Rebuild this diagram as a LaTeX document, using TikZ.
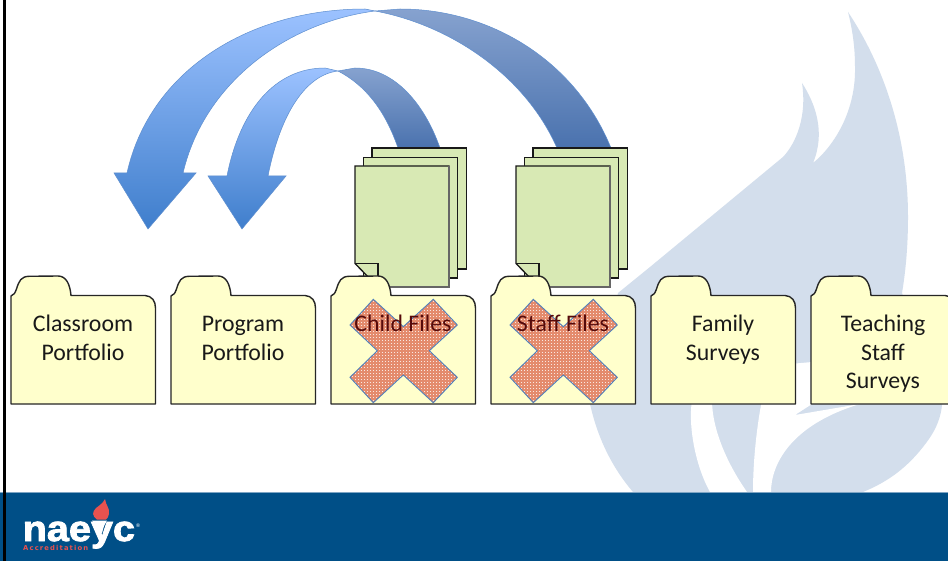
\documentclass[tikz,border=0pt]{standalone}
\usepackage{fontspec}
\setmainfont{Carlito}
\newfontfamily\logofont[FakeBold=2.2]{Liberation Sans Bold}
\newfontfamily\logosmall{DejaVu Sans}
\begin{document}
\begin{tikzpicture}[x=1pt,y=-1pt,
  foldershape/.style={fill=folderfill,draw=black!85,line width=1.4pt,line join=round},
  foldertext/.style={font=\fontsize{23.8}{28.8}\selectfont,align=center,text=black!90,inner sep=0pt},
  pageshape/.style={fill=pagefill,draw=black!90,line width=1.3pt,line join=miter},
  lightarrow/.style={top color=arrowlighttop,bottom color=arrowlightbot,draw=arrowedge,line width=.5pt},
  darkarrow/.style={top color=arrowdarktop,bottom color=arrowdarkbot,draw=arrowedge,line width=.5pt},
  crossshape/.style={fill=crossfill,fill opacity=.9},
]
\definecolor{folderfill}{HTML}{FFFFCC}
\definecolor{pagefill}{HTML}{D8E9B4}
\definecolor{arrowlighttop}{HTML}{9CC2FF}
\definecolor{arrowlightbot}{HTML}{3F7ECC}
\definecolor{arrowdarktop}{HTML}{86A2CF}
\definecolor{arrowdarkbot}{HTML}{4A72AE}
\definecolor{arrowedge}{HTML}{5F8FCF}
\definecolor{crossfill}{HTML}{E27F63}
\definecolor{crossedge}{HTML}{4F81BD}
\definecolor{crosstext}{HTML}{560A0A}
\definecolor{flamecol}{HTML}{D3DEEC}
\definecolor{barcol}{HTML}{004F87}
\definecolor{logored}{HTML}{E8524F}
\useasboundingbox (0,0) rectangle (948,561);
\fill[white] (0,0) rectangle (948,561);
% background flame
\fill[flamecol] (633,492) .. controls (610,465) and (597,435) .. (590,404)
  -- (618,293) -- (650,267) -- (783,157)
  .. controls (797,142) and (807,115) .. (802,83)
  .. controls (815,103) and (826,132) .. (813,163)
  .. controls (835,145) and (856,110) .. (855,67)
  .. controls (855,45) and (852,28) .. (848,12)
  .. controls (880,60) and (908,130) .. (908,217)
  .. controls (908,250) and (905,275) .. (902,293)
  -- (942,405) .. controls (940,425) and (930,438) .. (923,447)
  .. controls (905,470) and (885,483) .. (863,492) -- cycle;
\fill[white] (692,400) .. controls (688,425) and (695,465) .. (710,492) -- (747,492)
  .. controls (728,465) and (712,430) .. (712,400) -- cycle;
\fill[white] (762,400) .. controls (757,425) and (753,460) .. (753,492) -- (771,492)
  .. controls (771,465) and (790,425) .. (860,404) -- (795,415) -- (812,404)
  -- (812,362) -- (790,364) -- (762,385) -- cycle;
% bottom bar
\fill[barcol] (0,492) rectangle (948,561);
\draw[flamecol!60!barcol,line width=.8pt] (0,492) -- (948,492);
\fill[black] (3,0) rectangle (6,561);
% logo
\fill[logored] (105,499) .. controls (106,506) and (110,508) .. (109,514)
  .. controls (108.5,517) and (107.5,518) .. (106,519.5) -- (97,519.5)
  .. controls (92,516) and (92,512) .. (96,508) .. controls (100,505) and (103,503) .. (105,499) -- cycle;
\node[text=logored,font=\logosmall\bfseries\fontsize{6.8}{7}\selectfont,anchor=west,inner sep=0pt] (accredit) at (23,548) {A\,c\,c\,r\,e\,d\,i\,t\,a\,t\,i\,o\,n};
\fill[white] (92,520.5) -- (107,520.5) -- (104,526) -- (102,533) -- (98,533) -- (96,526) -- cycle;
\node[text=white,font=\logofont\fontsize{36}{36}\selectfont,anchor=base west,inner sep=0pt,xscale=1.1] (logo) at (22.5,541) {naeyc};
\node[text=white,font=\logosmall\fontsize{5}{5}\selectfont,inner sep=0pt] (regmark) at (138,526) {®};
% large arrow
\shade[darkarrow] (375,11) -- (400,9) .. controls (490,9) and (575,60) .. (611,148)
  -- (557,148) .. controls (525,75) and (450,25) .. (375,11) -- cycle;
\shade[lightarrow] (114,173) -- (127,173) .. controls (150,70) and (250,9) .. (365,9) -- (375,11)
  .. controls (290,22) and (205,80) .. (183,173) -- (196,173) -- (148,229) -- cycle;
% small arrow
\shade[darkarrow] (338,71) -- (355,68) .. controls (395,68) and (425,105) .. (440,148)
  -- (398,148) .. controls (385,110) and (365,85) .. (338,71) -- cycle;
\shade[lightarrow] (208,176) -- (227,176) .. controls (240,110) and (275,68) .. (325,68) -- (338,71)
  .. controls (305,75) and (280,115) .. (268,176) -- (286,176) -- (242,229) -- cycle;
% page stacks
\foreach \dx in {0,161}{
\begin{scope}[xshift=\dx]
  \draw[pageshape] (372,148) rectangle (466.5,269);
  \draw[pageshape] (363.5,157.5) rectangle (457.5,278);
  \draw[pageshape] (355,166) -- (449,166) -- (449,287) -- (378,287) -- (355,263.5) -- cycle;
  \draw[black!60,line width=1.3pt] (449,166) -- (449,287) -- (378,287);
  \draw[black!90,line width=1.1pt] (355,263.5) -- (378,263.5) -- (378,287);
\end{scope}}
% folders
\newcommand{\myfolderbody}[1]{%
  \draw[foldershape,xshift=#1] (11,404) -- (11,296)
    .. controls (14,295) and (15,293) .. (16.5,289)
    .. controls (19,281) and (21,276.5) .. (29,276.3)
    -- (58,276) .. controls (66,276) and (70,284) .. (71,295.5)
    -- (145,295.5) .. controls (152,296) and (155.5,301) .. (155.5,308)
    -- (155.5,404) -- cycle;}
\newcommand{\myfoldertext}[4]{%
  \node[foldertext,anchor=north,xshift=#1,text=#4] (#2) at (83,313) {\rule{0pt}{18pt}#3};}
\foreach \fx in {0,160,320,480,640,800}{\myfolderbody{\fx}}
\myfoldertext{0}{classroom}{Classroom\\Portfolio}{black!90}
\myfoldertext{160}{program}{Program\\Portfolio}{black!90}
\myfoldertext{640}{family}{Family\\Surveys}{black!90}
\myfoldertext{800}{teaching}{Teaching\\Staff\\Surveys}{black!90}
% crosses
\newcommand{\mycrosspath}{(373.3,299.3) -- (403.3,326.7) -- (433.3,299.3) -- (457.3,325) -- (429.3,350.7) -- (457.3,377.3) -- (433.3,402.7) -- (403.3,375) -- (373.3,402.7) -- (350,377.3) -- (377.3,350.7) -- (350,325) -- cycle}
\foreach \dx in {0,160}{
\begin{scope}[xshift=\dx]
  \fill[crossshape] \mycrosspath;
  \begin{scope}
    \clip \mycrosspath;
    \foreach \yy in {298.5,301.5,...,404}{
      \draw[white,opacity=.8,line width=1pt,dash pattern=on 1pt off 2pt] (349,\yy) -- (459,\yy);}
  \end{scope}
  \draw[crossedge,line width=.9pt,line join=miter] \mycrosspath;
\end{scope}}
\myfoldertext{320}{child}{Child Files}{crosstext}
\myfoldertext{480}{staff}{Staff Files}{crosstext}
\end{tikzpicture}
\end{document}
